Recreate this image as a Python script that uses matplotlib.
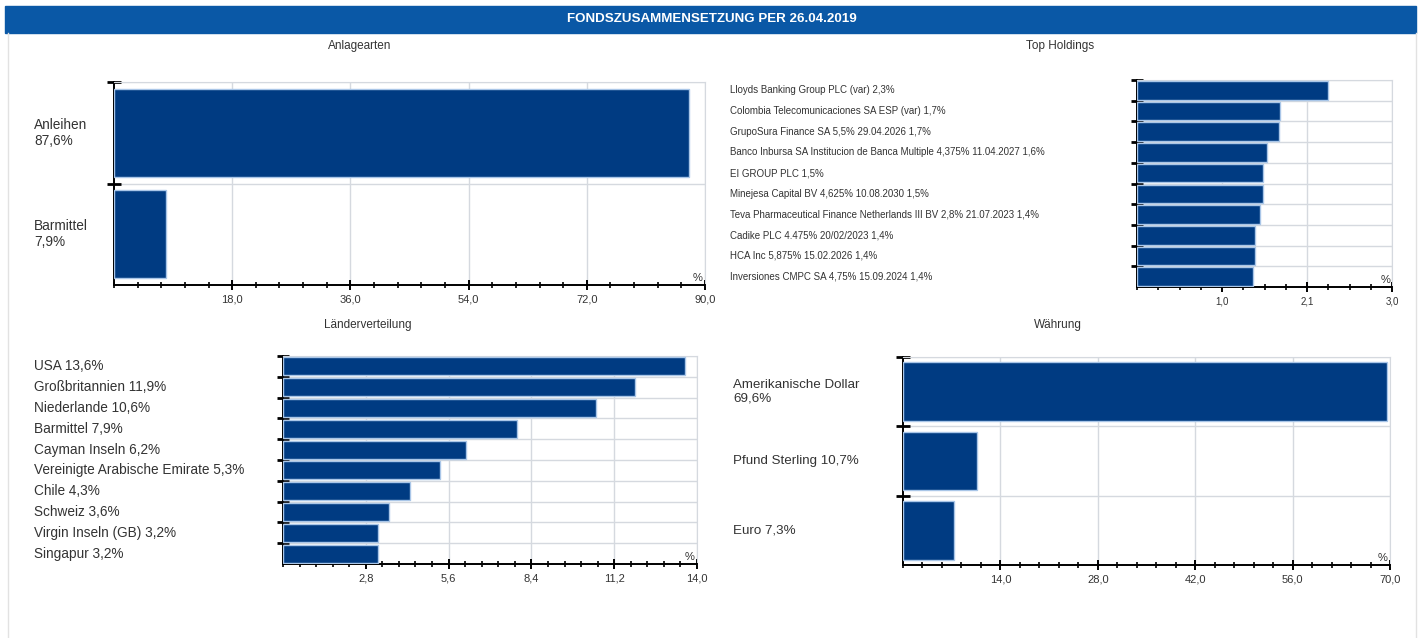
import matplotlib
matplotlib.use("Agg")
import matplotlib.pyplot as plt
from matplotlib.patches import Rectangle
from matplotlib.lines import Line2D
from matplotlib.ticker import MultipleLocator, FixedLocator
import matplotlib.transforms as mtrans

plt.rcParams['font.family'] = ['Liberation Sans', 'DejaVu Sans']

# ---------------- data ----------------
title_main = "FONDSZUSAMMENSETZUNG PER 26.04.2019"

asset_labels = ["Anleihen\n87,6%", "Barmittel\n7,9%"]
asset_values = [87.6, 7.9]
asset_ticks = [18, 36, 54, 72, 90]
asset_ticklabels = ["18,0", "36,0", "54,0", "72,0", "90,0"]

hold_labels = [
    "Lloyds Banking Group PLC (var) 2,3%",
    "Colombia Telecomunicaciones SA ESP (var) 1,7%",
    "GrupoSura Finance SA 5,5% 29.04.2026 1,7%",
    "Banco Inbursa SA Institucion de Banca Multiple 4,375% 11.04.2027 1,6%",
    "EI GROUP PLC 1,5%",
    "Minejesa Capital BV 4,625% 10.08.2030 1,5%",
    "Teva Pharmaceutical Finance Netherlands III BV 2,8% 21.07.2023 1,4%",
    "Cadike PLC 4.475% 20/02/2023 1,4%",
    "HCA Inc 5,875% 15.02.2026 1,4%",
    "Inversiones CMPC SA 4,75% 15.09.2024 1,4%",
]
hold_values = [2.29, 1.72, 1.70, 1.56, 1.51, 1.51, 1.47, 1.42, 1.42, 1.39]
hold_ticks = [1.02, 2.04, 3.06]
hold_ticklabels = ["1,0", "2,1", "3,0"]

country_labels = ["USA 13,6%", "Großbritannien 11,9%", "Niederlande 10,6%",
                  "Barmittel 7,9%", "Cayman Inseln 6,2%",
                  "Vereinigte Arabische Emirate 5,3%", "Chile 4,3%",
                  "Schweiz 3,6%", "Virgin Inseln (GB) 3,2%", "Singapur 3,2%"]
country_values = [13.6, 11.9, 10.6, 7.9, 6.2, 5.3, 4.3, 3.6, 3.2, 3.2]
country_ticks = [2.8, 5.6, 8.4, 11.2, 14.0]
country_ticklabels = ["2,8", "5,6", "8,4", "11,2", "14,0"]

cur_labels = ["Amerikanische Dollar\n69,6%", "Pfund Sterling 10,7%", "Euro 7,3%"]
cur_values = [69.6, 10.7, 7.3]
cur_ticks = [14, 28, 42, 56, 70]
cur_ticklabels = ["14,0", "28,0", "42,0", "56,0", "70,0"]

# ---------------- style ----------------
W, H = 1422, 638
BAR = "#003b82"
EDGE = "#a9c6e8"
HEAD = "#0a58a6"
GRID = "#d5d9df"
TXT = "#333333"

fig = plt.figure(figsize=(W / 100, H / 100), dpi=100)


def fx(x):
    return x / W


def fy(y):
    return 1 - y / H


# title bar and frame
fig.patches.append(Rectangle((fx(5), fy(33)), fx(1411), 27 / H,
                             transform=fig.transFigure, color=HEAD, zorder=0))
fig.text(fx(712), fy(19.5), title_main, color="white", fontsize=9.6,
         fontweight="bold", ha="center", va="center")
for xx in (8, 1416):
    fig.lines.append(Line2D([fx(xx), fx(xx)], [fy(33), 0],
                            transform=fig.transFigure, color="#e2e2e2", lw=1))


def make_axes(px0, py0, px1, py1):
    return fig.add_axes([fx(px0), fy(py1), fx(px1 - px0), (py1 - py0) / H])


def style_bar_axes(ax, n, values, xmax, ticks, ticklabels, minor, height):
    y = list(range(n))
    ax.barh(y, values, height=height, color=BAR, edgecolor=EDGE,
            linewidth=1.0, zorder=3)
    ax.set_ylim(n - 0.5, -0.5)
    ax.set_xlim(0, xmax)
    ax.xaxis.set_major_locator(FixedLocator(ticks))
    ax.set_xticklabels(ticklabels)
    ax.xaxis.set_minor_locator(MultipleLocator(minor))
    ax.yaxis.set_major_locator(FixedLocator([i - 0.5 for i in range(n)]))
    ax.set_yticklabels([])
    ax.tick_params(axis="x", which="major", direction="inout", length=7,
                   width=1.4, labelsize=8, labelcolor=TXT, pad=3)
    ax.tick_params(axis="x", which="minor", direction="inout", length=4,
                   width=1.2)
    ax.tick_params(axis="y", which="major", direction="inout", length=10,
                   width=2.0)
    ax.grid(True, axis="x", which="major", color=GRID, lw=1, zorder=0)
    ax.grid(True, axis="y", which="major", color=GRID, lw=1, zorder=0)
    ax.spines["top"].set_color(GRID)
    ax.spines["right"].set_color(GRID)
    ax.spines["left"].set_color("black")
    ax.spines["left"].set_linewidth(1.4)
    ax.spines["bottom"].set_color("black")
    ax.spines["bottom"].set_linewidth(1.4)
    ax.text(0.995, 0.01, "%", transform=ax.transAxes, ha="right",
            va="bottom", fontsize=8, color=TXT, zorder=5)


def side_labels(ax, labels, px, fontsize, ls=1.2):
    tr = mtrans.blended_transform_factory(fig.transFigure, ax.transData)
    for i, lab in enumerate(labels):
        ax.text(fx(px), i, lab, transform=tr, ha="left", va="center",
                fontsize=fontsize, color=TXT, linespacing=ls, clip_on=False)


# Anlagearten
ax1 = make_axes(114, 82, 705, 285)
style_bar_axes(ax1, 2, asset_values, 90, asset_ticks, asset_ticklabels,
               3.6, 0.87)
side_labels(ax1, asset_labels, 34, 9.8, 1.15)
fig.text(fx(360), fy(46), "Anlagearten", ha="center", va="center",
         fontsize=8.5, color=TXT)

# Top Holdings
ax2 = make_axes(1137, 80, 1392, 287)
style_bar_axes(ax2, 10, hold_values, 3.06, hold_ticks, hold_ticklabels,
               0.255, 0.9)
ax2.tick_params(axis="x", which="major", labelsize=7)
ax2.tick_params(axis="y", which="major", length=8)
side_labels(ax2, hold_labels, 730, 7.0)
fig.text(fx(1060), fy(46), "Top Holdings", ha="center", va="center",
         fontsize=8.5, color=TXT)

# Länderverteilung
ax3 = make_axes(283, 356, 697, 564)
style_bar_axes(ax3, 10, country_values, 14, country_ticks, country_ticklabels,
               0.56, 0.86)
ax3.tick_params(axis="y", which="major", length=8)
side_labels(ax3, country_labels, 34, 9.8)
fig.text(fx(368), fy(325), "Länderverteilung", ha="center", va="center",
         fontsize=8.5, color=TXT)

# Währung
ax4 = make_axes(903, 357, 1390, 565)
style_bar_axes(ax4, 3, cur_values, 70, cur_ticks, cur_ticklabels,
               2.8, 0.85)
side_labels(ax4, cur_labels, 733, 9.6, 1.15)
fig.text(fx(1058), fy(325), "Währung", ha="center", va="center",
         fontsize=8.5, color=TXT)

fig.savefig("out.png", dpi=100, facecolor="white")
